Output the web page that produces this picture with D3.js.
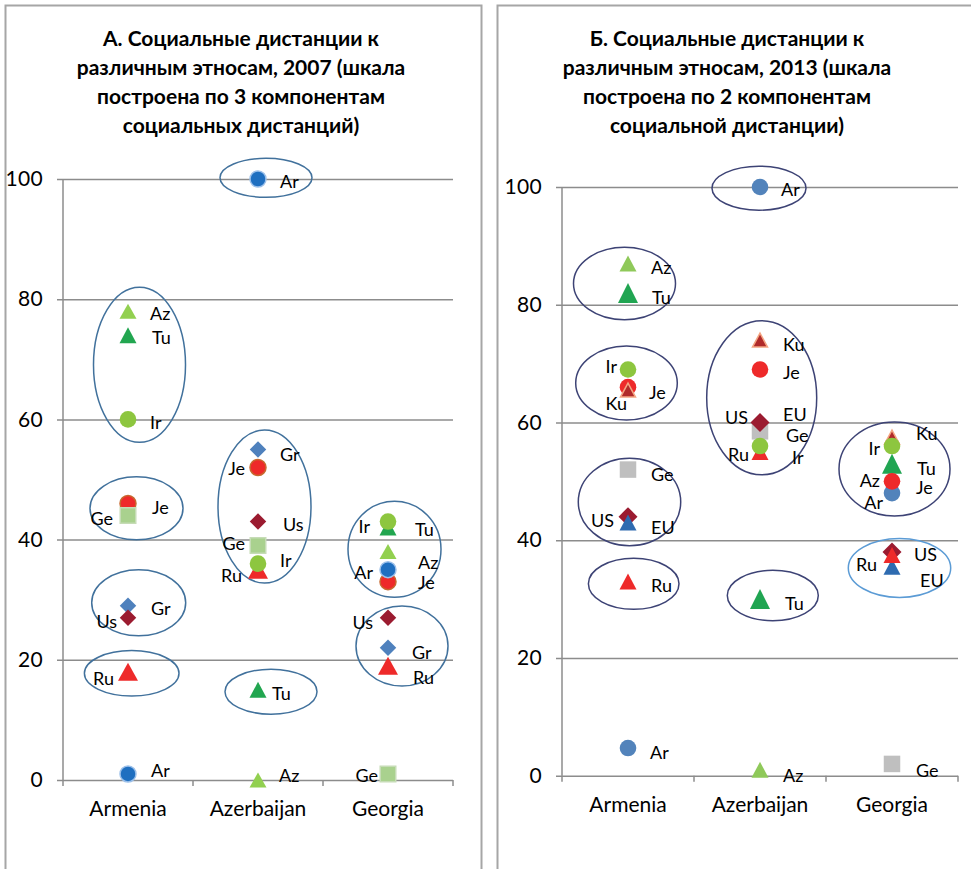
<!DOCTYPE html>
<html lang="ru">
<head>
<meta charset="UTF-8">
<title>Социальные дистанции к различным этносам</title>
<script src="https://cdnjs.cloudflare.com/ajax/libs/d3/7.8.5/d3.min.js"></script>
<style>
  body { margin: 0; background: #fff; font-family: Lato, 'Noto Sans', sans-serif; }
  .title { font-weight: 700; font-size: 21px; text-anchor: middle; fill: #000; }
  .axis text { font-family: Lato, 'Noto Sans', sans-serif; font-size: 21px; fill: #000; }
  .axis path { display: none; }
  .axis line { stroke: #8c8c8c; stroke-width: 1.5; }
  .pt-label { font-size: 18px; fill: #000; dominant-baseline: central; }
  .frame { fill: none; stroke: #a6a6a6; stroke-width: 2; }
  .oval { fill: none; stroke-width: 1.5; }
</style>
</head>
<body>
<svg id="chart" width="971" height="869"></svg>
<script>
// categories and ticks shared by both panels
const categories = ["Armenia", "Azerbaijan", "Georgia"];
const yTicks = [0, 20, 40, 60, 80, 100];

// Panel A, 2007 — values for Armenia, Azerbaijan, Georgia
const ar07 = [1, 100, 35];
const az07 = [78, 0, 38];
const tu07 = [74, 15, 42];
const ir07 = [60, 36, 43];
const je07 = [46, 52, 33];
const ge07 = [44, 39, 1];
const gr07 = [29, 55, 22];
const us07 = [27, 43, 27];
const ru07 = [18, 35, 19];

// Panel Б, 2013 — values for Armenia, Azerbaijan, Georgia
const ar13 = [4.7, 100, 48];
const az13 = [87, 1, 50];
const tu13 = [82, 30, 53];
const ir13 = [69, 56, 56];
const je13 = [66, 69, 50];
const ge13 = [52, 58.5, 2];
const us13 = [44, 60, 38];
const eu13 = [43, 60, 35.5];
const ru13 = [33, 55, 37.5];
const ku13 = [65.5, 74, 57.5];

const title07 = ["А. Социальные дистанции к", "различным этносам, 2007 (шкала",
                 "построена по 3 компонентам", "социальных дистанций)"];
const title13 = ["Б. Социальные дистанции к", "различным этносам, 2013 (шкала",
                 "построена по 2 компонентам", "социальной дистанции)"];

// series in drawing order (later ones sit on top)
const series07 = [["Tu", tu07], ["Ru", ru07], ["Je", je07], ["Ge", ge07], ["Ar", ar07],
                  ["Ir", ir07], ["Az", az07], ["Gr", gr07], ["Us", us07]];
const series13 = [["Ar", ar13], ["Az", az13], ["Tu", tu13], ["Ge", ge13], ["US", us13],
                  ["EU", eu13], ["Ru", ru13], ["Je", je13], ["Ku", ku13], ["Ir", ir13]];

// marker look
const style07 = {
  Ar: { shape: "circle", r: 8, fill: "#1f6fc0", stroke: "#9cc0ea" },
  Az: { shape: "triangle", w: 17, h: 15, fill: "#92d050" },
  Tu: { shape: "triangle", w: 17, h: 16, fill: "#22a650" },
  Ir: { shape: "circle", r: 8.3, fill: "#8dc63f" },
  Je: { shape: "circle", r: 8, fill: "#ee2a2a", stroke: "#c8682e" },
  Ge: { shape: "square", s: 15.5, fill: "#a9d18e", stroke: "#c6dcb6" },
  Gr: { shape: "diamond", s: 16.5, fill: "#4f81bd" },
  Us: { shape: "diamond", s: 16.5, fill: "#9b1b30" },
  Ru: { shape: "triangle", w: 20, h: 18, fill: "#ee2a2a" }
};
const style13 = {
  Ar: { shape: "circle", r: 8.3, fill: "#5283bb" },
  Az: { shape: "triangle", w: 17, h: 16, fill: "#8fc95a" },
  Tu: { shape: "triangle", w: 20, h: 20, fill: "#21a552" },
  Ir: { shape: "circle", r: 8.3, fill: "#8dc63f" },
  Je: { shape: "circle", r: 8.3, fill: "#ee2a2a" },
  Ge: { shape: "square", s: 16.5, fill: "#bfbfbf" },
  US: { shape: "diamond", s: 19, fill: "#9b1b30" },
  EU: { shape: "triangle", w: 17, h: 16, fill: "#2e6bb0" },
  Ru: { shape: "triangle", w: 17, h: 16, fill: "#ee2a2a" },
  Ku: { shape: "triangle", w: 15, h: 14, fill: "#b02a2a", stroke: "#f4a582" }
};
// markers that are covered in the original
const hidden13 = ["EU|Azerbaijan", "Az|Georgia"];

// label offsets from the marker [dx, dy]; negative dx = label on the left
const labels07 = {
  Ar: [[23, -4], [22, 2], [-15, 2]],
  Az: [[22, 2], [21, -5], [30, 10]],
  Tu: [[24, 2], [14, 3], [27, 1]],
  Ir: [[22, 3], [22, -4], [-18, 4]],
  Je: [[24, 3], [-13, 1], [30, 0]],
  Ge: [[-15, 2], [-13, -3], [-10, 1]],
  Gr: [[23, 2], [22, 4.5], [24, 4]],
  Us: [[-11, 3], [25, 2.5], [-15, 4]],
  Ru: [[-14, 6], [-16, 5], [25, 11]]
};
const labels13 = {
  Ar: [[22, 4], [21, 2], [-9, 9]],
  Az: [[23, 3], [23, 5], [-12, -1]],
  Tu: [[24, 4], [25, 4], [25, 4]],
  Ir: [[-11, -3.5], [32, 10.7], [-12, 2]],
  Je: [[21, 4.5], [23, 3], [24, 6]],
  Ge: [[23, 4], [26, 4], [24, 6]],
  US: [[-14, 3], [-12, -5], [22, 2]],
  EU: [[23, 4], [23, -8], [28, 13]],
  Ru: [[23, 3.5], [-11, 2], [-15, 9]],
  Ku: [[-1, 12.6], [23, 4], [24, -4]]
};

// hand-drawn ovals: category, centre value, x shift, radii in px
const ovals07 = [
  { cat: "Azerbaijan", v: 100.2, dx: 8, rx: 46, ry: 19.5 },
  { cat: "Armenia", v: 69.1, dx: 11.5, rx: 46, ry: 77.5 },
  { cat: "Armenia", v: 45.2, dx: 8.5, rx: 46.5, ry: 31.5 },
  { cat: "Azerbaijan", v: 45.5, dx: 6.5, rx: 46.5, ry: 76.5 },
  { cat: "Georgia", v: 38.4, dx: 6.5, rx: 46.5, ry: 48 },
  { cat: "Georgia", v: 22.3, dx: 14, rx: 46, ry: 40 },
  { cat: "Armenia", v: 29.5, dx: 10.7, rx: 47, ry: 33 },
  { cat: "Armenia", v: 17.75, dx: 3.7, rx: 47.3, ry: 22.7 },
  { cat: "Azerbaijan", v: 14.7, dx: 13, rx: 46, ry: 22.5 }
];
const ovals13 = [
  { cat: "Azerbaijan", v: 99.8, dx: -1, rx: 47, ry: 22 },
  { cat: "Armenia", v: 83.6, dx: -3.5, rx: 51, ry: 36.3 },
  { cat: "Armenia", v: 66.7, dx: -1.5, rx: 50.8, ry: 37 },
  { cat: "Azerbaijan", v: 64.2, dx: 1.7, rx: 55, ry: 77 },
  { cat: "Georgia", v: 52.1, dx: 2.5, rx: 55.5, ry: 47 },
  { cat: "Armenia", v: 46.5, dx: 1.5, rx: 51.2, ry: 43.8 },
  { cat: "Armenia", v: 32.6, dx: 5.7, rx: 45.3, ry: 25.5 },
  { cat: "Azerbaijan", v: 30.6, dx: 12.8, rx: 45.5, ry: 25.2 },
  { cat: "Georgia", v: 35.3, dx: 7.5, rx: 51.2, ry: 29.5, color: "#5b9bd5" }
];

const svg = d3.select("#chart");

function markerPath(st) {
  if (st.shape === "circle") {
    return d3.symbol(d3.symbolCircle, Math.PI * st.r * st.r)();
  }
  if (st.shape === "square") {
    const a = st.s / 2;
    return `M${-a},${-a}H${a}V${a}H${-a}Z`;
  }
  if (st.shape === "diamond") {
    const a = st.s / 2;
    return `M0,${-a}L${a},0L0,${a}L${-a},0Z`;
  }
  // triangle centred on its bounding box
  const w = st.w / 2, h = st.h / 2;
  return `M0,${-h}L${w},${h}L${-w},${h}Z`;
}

function drawPanel(cfg) {
  const g = svg.append("g");

  g.append("rect").attr("class", "frame")
    .attr("x", cfg.frame[0]).attr("y", cfg.frame[1])
    .attr("width", cfg.frame[2]).attr("height", cfg.frame[3]);

  g.selectAll(".title").data(cfg.title).join("text")
    .attr("class", "title")
    .attr("x", cfg.titleX)
    .attr("y", (d, i) => 46 + i * 29)
    .text(d => d);

  const x = d3.scaleBand().domain(categories).range(cfg.xRange);
  const y = d3.scaleLinear().domain([0, 100]).range(cfg.yRange);
  const x0 = cfg.xRange[0], x1 = cfg.xRange[1];
  const cx = c => x(c) + x.bandwidth() / 2;

  // y axis with gridlines
  const ya = g.append("g").attr("class", "axis")
    .attr("transform", `translate(${x0},0)`)
    .call(d3.axisLeft(y).tickValues(yTicks).tickSize(6).tickPadding(14));
  ya.selectAll(".tick line").attr("x1", -6).attr("x2", x1 - x0);
  ya.selectAll("text").attr("letter-spacing", "0.3px");
  ya.append("line").attr("x1", 0).attr("x2", 0)
    .attr("y1", y(0)).attr("y2", y(100));

  // x axis: labels at band centres, ticks at band edges
  const xa = g.append("g").attr("class", "axis")
    .attr("transform", `translate(0,${y(0)})`)
    .call(d3.axisBottom(x).tickSize(0).tickPadding(21));
  xa.selectAll(".edge").data(d3.range(categories.length + 1)).join("line")
    .attr("class", "edge")
    .attr("x1", i => x0 + i * x.step()).attr("x2", i => x0 + i * x.step())
    .attr("y1", 0).attr("y2", 6);

  // ovals
  g.selectAll(".oval").data(cfg.ovals).join("ellipse")
    .attr("class", "oval")
    .attr("cx", d => cx(d.cat) + d.dx)
    .attr("cy", d => y(d.v))
    .attr("rx", d => d.rx).attr("ry", d => d.ry)
    .attr("stroke", d => d.color || cfg.ovalColor);

  // points
  const pts = [];
  cfg.series.forEach(([name, vals]) => {
    vals.forEach((v, i) => pts.push({ name, cat: categories[i], i, v }));
  });

  g.selectAll(".mark")
    .data(pts.filter(p => !cfg.hidden.includes(p.name + "|" + p.cat)))
    .join("path")
    .attr("class", "mark")
    .attr("transform", d => `translate(${cx(d.cat)},${y(d.v)})`)
    .attr("d", d => markerPath(cfg.style[d.name]))
    .attr("fill", d => cfg.style[d.name].fill)
    .attr("stroke", d => cfg.style[d.name].stroke || "none")
    .attr("stroke-width", 1.5);

  g.selectAll(".pt-label").data(pts).join("text")
    .attr("class", "pt-label")
    .attr("x", d => cx(d.cat) + cfg.labels[d.name][d.i][0])
    .attr("y", d => y(d.v) + cfg.labels[d.name][d.i][1])
    .attr("text-anchor", d => cfg.labels[d.name][d.i][0] < 0 ? "end" : "start")
    .text(d => d.name);
}

drawPanel({
  frame: [5.5, 5.5, 476, 900], title: title07, titleX: 241,
  xRange: [63, 453], yRange: [780, 179],
  series: series07, style: style07, labels: labels07,
  ovals: ovals07, ovalColor: "#41719c", hidden: []
});
drawPanel({
  frame: [497.5, 5.5, 500, 900], title: title13, titleX: 727,
  xRange: [562, 958], yRange: [775.7, 187],
  series: series13, style: style13, labels: labels13,
  ovals: ovals13, ovalColor: "#3d4375", hidden: hidden13
});
</script>
</body>
</html>
